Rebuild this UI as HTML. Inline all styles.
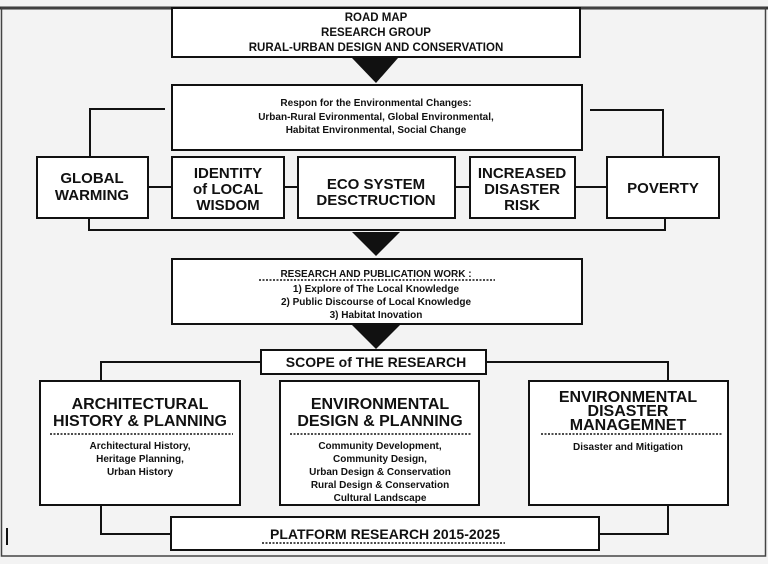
<!DOCTYPE html>
<html><head><meta charset="utf-8"><style>
html,body{margin:0;padding:0;background:#f3f3f3}
svg{display:block}
text{font-family:"Liberation Sans Narrow","Liberation Sans",sans-serif;font-weight:bold;fill:#111;text-anchor:middle}
</style></head><body>
<svg width="768" height="564" viewBox="0 0 768 564" xmlns="http://www.w3.org/2000/svg">
<rect x="0" y="0" width="768" height="564" fill="#f3f3f3"/>
<line x1="0" y1="8" x2="768" y2="8" stroke="#333" stroke-width="3"/>
<rect x="1.5" y="8" width="764" height="548" fill="none" stroke="#444" stroke-width="1.5"/>
<g fill="#fff" stroke="#111" stroke-width="2">
<rect x="172" y="8" width="408" height="49"/>
<rect x="172" y="85" width="410" height="65"/>
<rect x="37" y="157" width="111" height="61"/>
<rect x="172" y="157" width="112" height="61"/>
<rect x="298" y="157" width="157" height="61"/>
<rect x="470" y="157" width="105" height="61"/>
<rect x="607" y="157" width="112" height="61"/>
<rect x="172" y="259" width="410" height="65"/>
<rect x="261" y="350" width="225" height="24"/>
<rect x="40" y="381" width="200" height="124"/>
<rect x="280" y="381" width="199" height="124"/>
<rect x="529" y="381" width="199" height="124"/>
<rect x="171" y="517" width="428" height="33"/>
</g>
<g fill="none" stroke="#111" stroke-width="2">
<polyline points="165,109 90,109 90,157"/>
<polyline points="590,110 663,110 663,157"/>
<line x1="148" y1="187" x2="172" y2="187"/>
<line x1="284" y1="187" x2="298" y2="187"/>
<line x1="455" y1="187" x2="470" y2="187"/>
<line x1="575" y1="187" x2="607" y2="187"/>
<polyline points="89,218 89,230 665,230 665,218"/>
<polyline points="261,362 101,362 101,381"/>
<polyline points="486,362 668,362 668,381"/>
<polyline points="101,505 101,534 171,534"/>
<polyline points="668,505 668,534 599,534"/>
<line x1="7" y1="528" x2="7" y2="545"/>
</g>
<g fill="#111">
<polygon points="352,58 398,58 376,83"/>
<polygon points="352,232 400,232 376,256"/>
<polygon points="352,325 400,325 376,349"/>
</g>
<g stroke="#111" stroke-width="1.5" stroke-dasharray="2,1.5">
<line x1="259" y1="280" x2="495" y2="280"/>
<line x1="50" y1="434" x2="233" y2="434"/>
<line x1="290" y1="434" x2="472" y2="434"/>
<line x1="541" y1="434" x2="723" y2="434"/>
<line x1="262" y1="543" x2="505" y2="543"/>
</g>
<g font-size="11.5">
<text x="376" y="21">ROAD MAP</text>
<text x="376" y="36">RESEARCH GROUP</text>
<text x="376" y="51">RURAL-URBAN DESIGN AND CONSERVATION</text>
</g>
<g font-size="10">
<text x="376" y="106">Respon for the Environmental Changes:</text>
<text x="376" y="120">Urban-Rural Evironmental, Global Environmental,</text>
<text x="376" y="133">Habitat Environmental, Social Change</text>
</g>
<g font-size="15">
<text x="92" y="183">GLOBAL</text>
<text x="92" y="200">WARMING</text>
<text x="228" y="178">IDENTITY</text>
<text x="228" y="194">of LOCAL</text>
<text x="228" y="210">WISDOM</text>
<text x="376" y="189">ECO SYSTEM</text>
<text x="376" y="205">DESCTRUCTION</text>
<text x="522" y="178">INCREASED</text>
<text x="522" y="194">DISASTER</text>
<text x="522" y="210">RISK</text>
<text x="663" y="193">POVERTY</text>
</g>
<g font-size="10">
<text x="376" y="277">RESEARCH AND PUBLICATION WORK :</text>
<text x="376" y="292">1) Explore of The Local Knowledge</text>
<text x="376" y="305">2) Public Discourse of Local Knowledge</text>
<text x="376" y="318">3) Habitat Inovation</text>
</g>
<text x="376" y="367" font-size="14">SCOPE of THE RESEARCH</text>
<g font-size="16">
<text x="140" y="409">ARCHITECTURAL</text>
<text x="140" y="426">HISTORY &amp; PLANNING</text>
<text x="380" y="409">ENVIRONMENTAL</text>
<text x="380" y="426">DESIGN &amp; PLANNING</text>
<text x="628" y="402">ENVIRONMENTAL</text>
<text x="628" y="416">DISASTER</text>
<text x="628" y="430">MANAGEMNET</text>
</g>
<g font-size="10">
<text x="140" y="449">Architectural History,</text>
<text x="140" y="462">Heritage Planning,</text>
<text x="140" y="475">Urban History</text>
<text x="380" y="449">Community Development,</text>
<text x="380" y="462">Community Design,</text>
<text x="380" y="475">Urban Design &amp; Conservation</text>
<text x="380" y="488">Rural Design &amp; Conservation</text>
<text x="380" y="501">Cultural Landscape</text>
<text x="628" y="450">Disaster and Mitigation</text>
</g>
<text x="385" y="539" font-size="14">PLATFORM RESEARCH 2015-2025</text>
</svg>
</body></html>
